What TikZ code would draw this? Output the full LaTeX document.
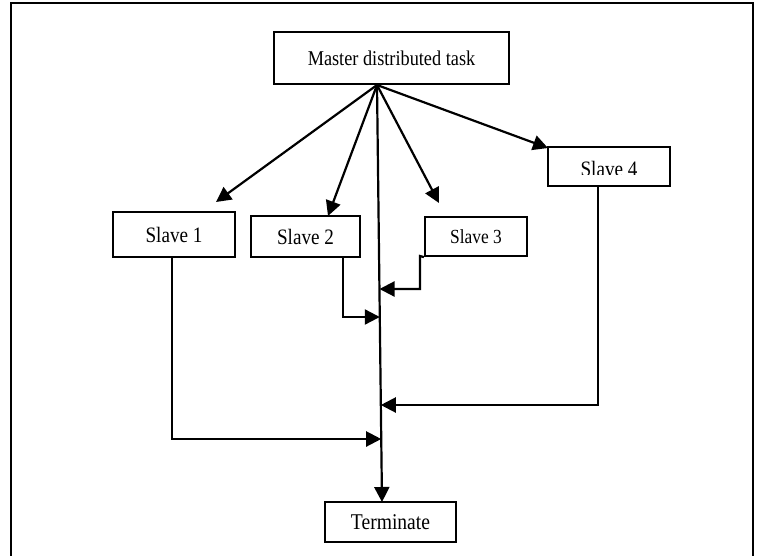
\documentclass[tikz,border=0pt]{standalone}
\usepackage{fontspec}
\setmainfont{Liberation Serif}
\newfontfamily\boxfont[FakeStretch=0.87]{Liberation Serif}
\usetikzlibrary{arrows.meta,calc}
\begin{document}
\begin{tikzpicture}[x=1pt,y=-1pt,
  line/.style={line width=2.2pt},
  flow/.style={line, -{Triangle[length=15pt,width=15pt]}},
  taskbox/.style={draw, line width=2.2pt, rectangle, inner sep=0pt,
    font=\boxfont\fontsize{22}{24}\selectfont}]
\useasboundingbox (0,0) rectangle (758,555);

% open frame around the chart
\draw[line] (11,556) -- (11,3) -- (753,3) -- (753,556);

% tasks
\node[taskbox, minimum width=235pt, minimum height=52pt,
  font=\boxfont\fontsize{21}{23}\selectfont] (master) at (391.5,58) {Master distributed task};
\node[taskbox, minimum width=122pt, minimum height=45pt] (s1) at (174,234.5) {Slave 1};
\node[taskbox, minimum width=109pt, minimum height=41pt] (s2) at (305.5,236.5) {Slave 2};
\node[taskbox, minimum width=102pt, minimum height=39pt,
  font=\boxfont\fontsize{20}{22}\selectfont] (s3) at (476,236.5) {Slave 3};
\node[taskbox, minimum width=122pt, minimum height=39pt] (s4) at (609,166.5) {};
\begin{scope}
  \clip (549,148) rectangle (669,174);
  \node[font=\boxfont\fontsize{22}{24}\selectfont, anchor=base] (s4label) at (609,176) {Slave 4};
\end{scope}
\node[taskbox, minimum width=131pt, minimum height=40pt,
  font=\boxfont\fontsize{22.5}{24}\selectfont] (term) at (390.5,522) {Terminate};

% fan-out points and arrow tips
\coordinate (apex) at (377,85);
\coordinate (t1) at (216,202);
\coordinate (t2) at (328,216);
\coordinate (t3) at (439,203);
\coordinate (t4) at (548,148);
\coordinate (tt) at (382,502);

\draw[flow] (apex) -- (t1);
\draw[flow] (apex) -- (t2);
\draw[flow] (apex) -- (t3);
\draw[flow] (apex) -- (t4);
\draw[flow] (apex) -- (tt);

% results joining the main line
\draw[flow] ([xshift=-2pt]s1.south) -- (172,439) -- (381.2,439);
\draw[flow] ([xshift=37.5pt]s2.south) -- (343,317) -- (379.8,317);
\draw[flow] (s3.south west) -- (420,256) -- (420,289) -- (379.5,289);
\draw[flow] ([xshift=-11pt]s4.south) -- (598,405) -- (380.8,405);
\end{tikzpicture}
\end{document}
